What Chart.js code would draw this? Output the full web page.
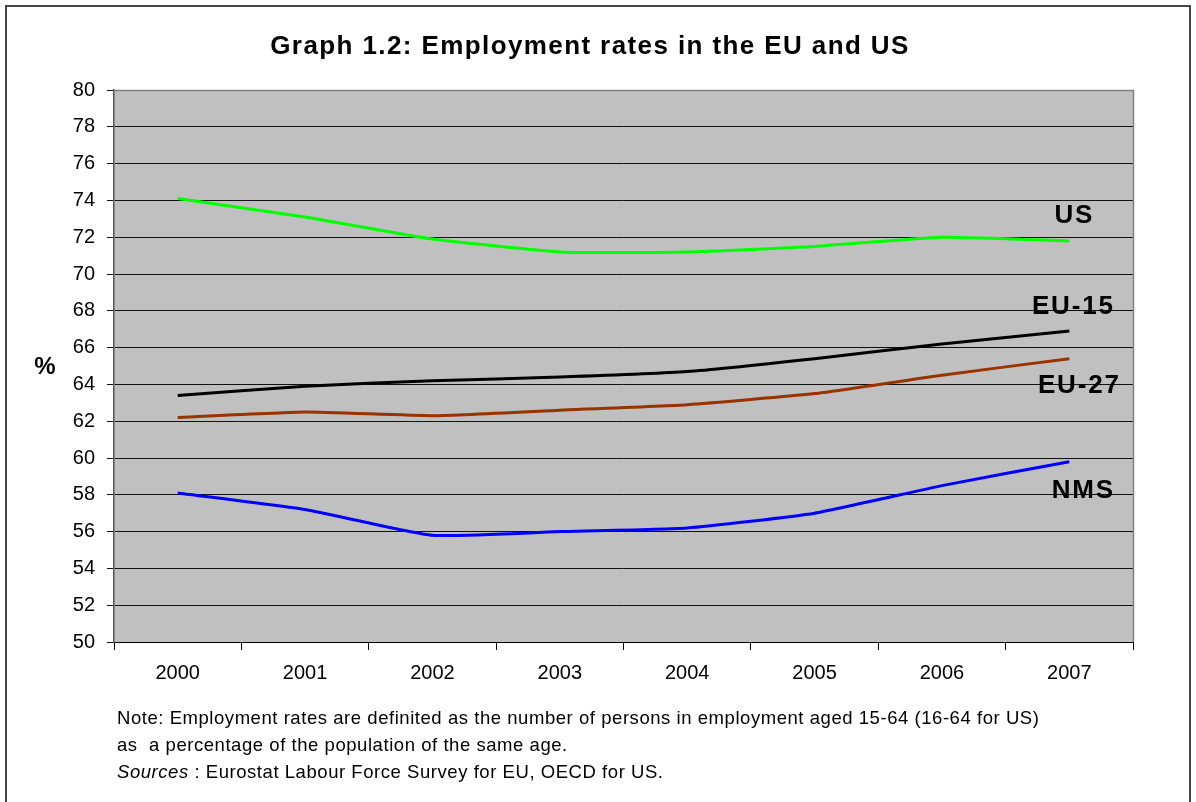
<!DOCTYPE html>
<html><head><meta charset="utf-8">
<script src="https://cdn.jsdelivr.net/npm/chart.js@4"></script>
<style>html,body{margin:0;padding:0;background:#fff}#wrap{width:1196px;height:802px;position:relative}</style>
</head><body><div id="wrap"><canvas id="c" width="1196" height="802"></canvas></div>
<script>
const years = ["2000","2001","2002","2003","2004","2005","2006","2007"];
const us    = [74.1, 73.1, 71.9, 71.2, 71.2, 71.5, 72.0, 71.8];
const eu15  = [63.4, 63.9, 64.2, 64.4, 64.7, 65.4, 66.2, 66.9];
const eu27  = [62.2, 62.5, 62.3, 62.6, 62.9, 63.5, 64.5, 65.4];
const nms   = [58.1, 57.2, 55.8, 56.0, 56.2, 57.0, 58.5, 59.8];
const yTicks = [50,52,54,56,58,60,62,64,66,68,70,72,74,76,78,80];
const seriesNames = ["US","EU-15","EU-27","NMS"];
const titleText = "Graph 1.2: Employment rates in the EU and US";
const noteLine1 = "Note: Employment rates are definited as the number of persons in employment aged 15-64 (16-64 for US)";
const noteLine2 = "as  a percentage of the population of the same age.";
const srcItalic = "Sources";
const srcRest = " : Eurostat Labour Force Survey for EU, OECD for US.";

const FONT = "'Liberation Sans', Arial, sans-serif";

const deco = {
  id: 'deco',
  beforeDraw(chart) {
    const {ctx, chartArea: a} = chart;
    ctx.save();
    ctx.fillStyle = '#fff';
    ctx.fillRect(0,0,chart.width,chart.height);
    ctx.strokeStyle = '#444';
    ctx.lineWidth = 2;
    ctx.strokeRect(6, 6, 1184, 800);
    ctx.fillStyle = '#C0C0C0';
    ctx.fillRect(a.left, a.top, a.right - a.left, a.bottom - a.top);
    ctx.restore();
  },
  afterDraw(chart) {
    const {ctx, chartArea: a, scales} = chart;
    ctx.save();
    ctx.strokeStyle = '#808080';
    ctx.lineWidth = 1.5;
    ctx.beginPath();
    ctx.moveTo(a.left, a.top + 0.5); ctx.lineTo(a.right + 0.5, a.top + 0.5); ctx.lineTo(a.right + 0.5, a.bottom);
    ctx.stroke();
    ctx.fillStyle = '#000';
    ctx.textAlign = 'center'; ctx.textBaseline = 'middle';
    ctx.letterSpacing = '1.4px';
    ctx.font = "bold 26px " + FONT;
    ctx.fillText(titleText, 590, 47);
    ctx.letterSpacing = '0px';
    ctx.font = "bold 24px " + FONT;
    ctx.fillText('%', 45, 367);
    const xs = scales.x, ys = scales.y;
    const last = years.length - 1;
    const lx = xs.getPixelForValue(last);
    ctx.font = "bold 26px " + FONT;
    ctx.letterSpacing = '1.8px';
    const lab = [
      [seriesNames[0], us[last], 1074 - 1069, -25],
      [seriesNames[1], eu15[last], 1073 - 1069, -24],
      [seriesNames[2], eu27[last], 1079 - 1069, 27],
      [seriesNames[3], nms[last], 1083 - 1069, 29]
    ];
    lab.forEach(([t, v, dx, dy]) => {
      ctx.fillText(t, lx + dx, ys.getPixelForValue(v) + dy);
    });
    ctx.textAlign = 'left'; ctx.textBaseline = 'middle';
    ctx.letterSpacing = '0.55px';
    ctx.font = "18.5px " + FONT;
    ctx.fillText(noteLine1, 117, 719);
    ctx.fillText(noteLine2, 117, 746);
    ctx.font = "italic 18.5px " + FONT;
    ctx.fillText(srcItalic, 117, 773);
    const w = ctx.measureText(srcItalic).width;
    ctx.font = "18.5px " + FONT;
    ctx.fillText(srcRest, 117 + w, 773);
    ctx.restore();
  }
};

const mk = (label, data, color) => ({
  label, data, borderColor: color, backgroundColor: color,
  borderWidth: 3, pointRadius: 0, tension: 0.15, fill: false
});

new Chart(document.getElementById('c'), {
  type: 'line',
  data: {
    labels: years,
    datasets: [
      mk(seriesNames[0], us, '#00FF00'),
      mk(seriesNames[1], eu15, '#000000'),
      mk(seriesNames[2], eu27, '#993300'),
      mk(seriesNames[3], nms, '#0000FF')
    ]
  },
  options: {
    responsive: false,
    animation: false,
    devicePixelRatio: 1,
    layout: { padding: { left: 0, top: 90, right: 63, bottom: 0 } },
    plugins: { legend: { display: false }, title: { display: false }, tooltip: { enabled: false } },
    scales: {
      x: {
        type: 'category',
        offset: true,
        afterFit: s => { s.height = 160; },
        grid: { offset: true, drawOnChartArea: false, drawTicks: true, tickLength: 8, color: '#000', lineWidth: 1 },
        border: { display: true, color: '#000', width: 1 },
        ticks: { color: '#000', font: { family: FONT, size: 20 }, padding: 11, maxRotation: 0 }
      },
      y: {
        min: 50, max: 80,
        afterFit: s => { s.width = 114; },
        afterBuildTicks: s => { s.ticks = yTicks.map(v => ({ value: v })); },
        grid: { color: '#111', lineWidth: 1, drawTicks: true, tickLength: 7 },
        border: { display: true, color: '#555', width: 1.5 },
        ticks: { color: '#000', font: { family: FONT, size: 20 }, padding: 12 }
      }
    }
  },
  plugins: [deco]
});
</script>
</body></html>
